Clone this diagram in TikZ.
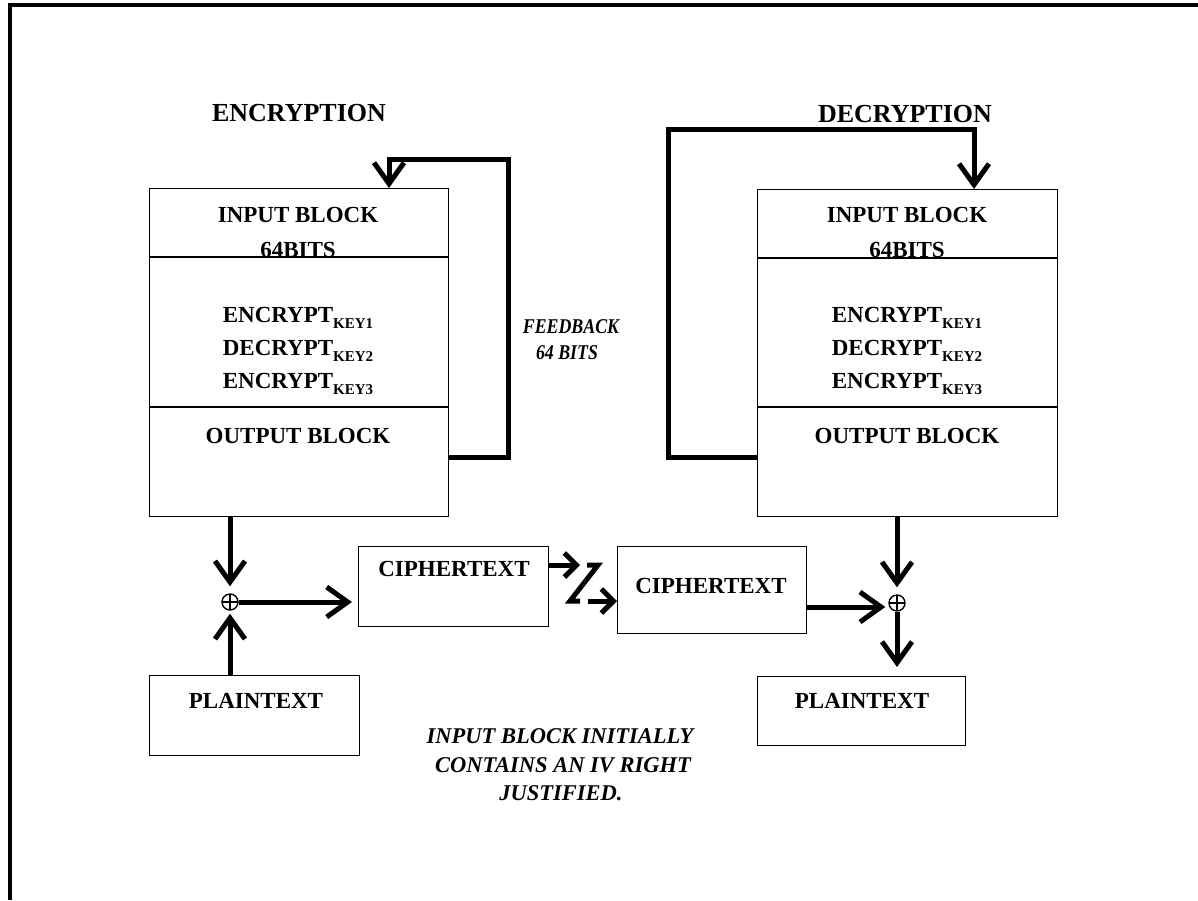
\documentclass[tikz,border=0pt]{standalone}
\usepackage{fontspec}
\setmainfont{Liberation Serif}
\usetikzlibrary{arrows.meta}
\newcommand\keysub[1]{\raisebox{-6pt}{\fontsize{15}{15}\selectfont #1}}
\begin{document}
\begin{tikzpicture}[x=1pt,y=-1pt,
  thinbox/.style={draw, line width=1.2pt, rectangle, inner sep=0pt, anchor=north west},
  lbl/.style={font=\fontsize{23}{23}\selectfont\bfseries, inner sep=0pt, anchor=base},
  ttl/.style={font=\fontsize{26}{26}\selectfont\bfseries, inner sep=0pt, anchor=base},
  note/.style={font=\fontsize{22.5}{22.5}\selectfont\bfseries\itshape, inner sep=0pt, anchor=base},
  fbnote/.style={font=\fontsize{21}{21}\selectfont\bfseries\itshape, inner sep=0pt, anchor=base},
  arr/.style={line width=5pt, -{Straight Barb[length=21pt,width=30pt]}},
  sarr/.style={line width=5pt, -{Straight Barb[length=12pt,width=24pt]}},
  fb/.style={line width=5pt},
  xor/.style={circle, draw, line width=1.4pt, minimum size=16pt, inner sep=0pt,
    path picture={\draw[line width=1.4pt] (path picture bounding box.north) -- (path picture bounding box.south)
      (path picture bounding box.west) -- (path picture bounding box.east);}}
]
\useasboundingbox (0,0) rectangle (1198,900);
% outer frame
\draw[line width=3.5pt] (1198,5) -- (10,5) -- (10,900);

% titles
\node[ttl] (t1) at (299,121) {ENCRYPTION};
\node[ttl] (t2) at (905,122) {DECRYPTION};

% encryption block
\node[thinbox, minimum width=299pt, minimum height=328pt] (enc) at (149,188) {};
\draw[line width=1.2pt] (enc.west |- 0,257) -- (enc.east |- 0,257);
\draw[line width=1.2pt] (enc.west |- 0,407) -- (enc.east |- 0,407);
\node[lbl] (e1) at (298,222) {INPUT BLOCK};
\node[lbl] (e2) at (298,257) {64BITS};
\node[lbl] (e3) at (298,322) {ENCRYPT\keysub{KEY1}};
\node[lbl] (e4) at (298,355) {DECRYPT\keysub{KEY2}};
\node[lbl] (e5) at (298,388) {ENCRYPT\keysub{KEY3}};
\node[lbl] (e6) at (298,443) {OUTPUT BLOCK};

% decryption block
\node[thinbox, minimum width=300pt, minimum height=327pt] (dec) at (757,189) {};
\draw[line width=1.2pt] (dec.west |- 0,258) -- (dec.east |- 0,258);
\draw[line width=1.2pt] (dec.west |- 0,407) -- (dec.east |- 0,407);
\node[lbl] (d1) at (907,222) {INPUT BLOCK};
\node[lbl] (d2) at (907,257) {64BITS};
\node[lbl] (d3) at (907,322) {ENCRYPT\keysub{KEY1}};
\node[lbl] (d4) at (907,355) {DECRYPT\keysub{KEY2}};
\node[lbl] (d5) at (907,388) {ENCRYPT\keysub{KEY3}};
\node[lbl] (d6) at (907,443) {OUTPUT BLOCK};

% feedback loops
\draw[arr] (enc.east |- 0,457) -- (508,457) -- (508,159) -- (389,159) -- (389,0 |- enc.north);
\draw[arr] (dec.west |- 0,457) -- (668,457) -- (668,129) -- (974,129) -- (974,0 |- dec.north);

\node[fbnote] (fb1) at (571,333) {\scalebox{0.85}[1]{FEEDBACK}};
\node[fbnote] (fb2) at (567,359) {\scalebox{0.85}[1]{64 BITS}};

% lower boxes
\node[thinbox, minimum width=210pt, minimum height=80pt] (p1) at (149,675) {};
\node[lbl] (p1t) at (256,708) {PLAINTEXT};
\node[thinbox, minimum width=190pt, minimum height=80pt] (c1) at (358,546) {};
\node[lbl] (c1t) at (454,576) {CIPHERTEXT};
\node[thinbox, minimum width=189pt, minimum height=87pt] (c2) at (617,546) {};
\node[lbl] (c2t) at (711,593) {CIPHERTEXT};
\node[thinbox, minimum width=208pt, minimum height=69pt] (p2) at (757,676) {};
\node[lbl] (p2t) at (862,708) {PLAINTEXT};

% xor nodes
\node[xor] (x1) at (230,602) {};
\node[xor] (x2) at (897,603) {};

% encryption side arrows
\draw[arr, shorten >=7pt] (x1 |- enc.south) -- (x1.north);
\draw[arr, shorten >=3pt] (x1 |- p1.north) -- (x1.south);
\draw[arr, shorten >=6pt] (x1.east) -- (c1.west |- x1);

% transmission break
\coordinate (k1) at (580,565);
\coordinate (k2) at (587,565);
\coordinate (k3) at (598,565);
\coordinate (k4) at (570,601);
\coordinate (k5) at (580,601);
\coordinate (k6) at (588,601);
\draw[sarr] (c1.east |- k1) -- (k1);
\draw[line width=5pt] (k2) -- (k3) -- (k4) -- (k5);
\draw[sarr] (k6) -- (c2.west |- k6);

% decryption side arrows
\draw[arr, shorten >=7pt] (x2 |- dec.south) -- (x2.north);
\draw[arr, shorten >=3pt] (c2.east |- 0,607) -- (x2.west |- 0,607);
\draw[arr, shorten >=9pt] (x2.south) -- (x2 |- p2.north);

% note
\node[note] (n1) at (560,743) {INPUT BLOCK INITIALLY};
\node[note] (n2) at (563,772) {CONTAINS AN IV RIGHT};
\node[note] (n3) at (561,800) {JUSTIFIED.};
\end{tikzpicture}
\end{document}
